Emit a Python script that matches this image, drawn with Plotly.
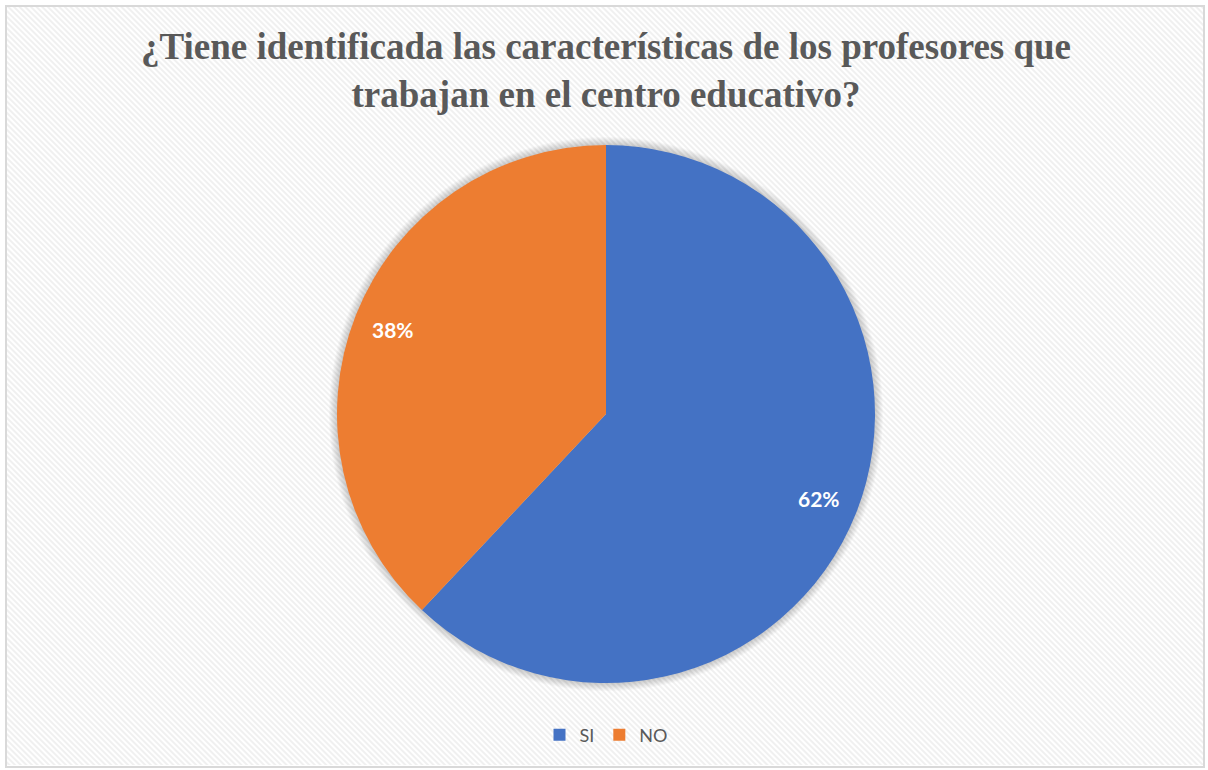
import math, base64
import plotly.graph_objects as go

categories = ["SI", "NO"]
values = [62, 38]
colors = ["#4472C4", "#ED7D31"]
title_text = "¿Tiene identificada las características de los profesores que<br>trabajan en el centro educativo?"

W, H = 1208, 770
L, R, T, B = 337, 333, 145, 87
pw, ph = W - L - R, H - T - B

def px2x(px):
    return (px - L) / pw

def py2y(py):
    return (H - B - py) / ph

svg = ('<svg xmlns="http://www.w3.org/2000/svg" width="%d" height="%d">'
       '<defs><pattern id="p" width="4" height="4" patternUnits="userSpaceOnUse" patternTransform="rotate(-45)">'
       '<rect width="4" height="4" fill="#ffffff"/><rect width="2" height="4" fill="#f0f0f0"/></pattern></defs>'
       '<rect width="100%%" height="100%%" fill="url(#p)"/></svg>') % (1197, 760)
src = "data:image/svg+xml;base64," + base64.b64encode(svg.encode()).decode()

fig = go.Figure(go.Pie(
    labels=categories, values=values, sort=False, direction="clockwise", rotation=0,
    marker=dict(colors=colors, line=dict(color="white", width=0)),
    textinfo="none", hoverinfo="label+percent",
))

# labels at 0.85 radius, from data
total = sum(values)
cum = 0
annotations = []
for v in values:
    mid = (cum + v / 2) / total * 2 * math.pi
    cum += v
    x = 0.5 + 0.85 * 0.5 * math.sin(mid)
    y = 0.5 + 0.85 * 0.5 * math.cos(mid)
    annotations.append(dict(x=x, y=y, xref="paper", yref="paper", showarrow=False,
                            xanchor="center", yanchor="middle",
                            text="<b>%d%%</b>" % round(v / total * 100),
                            font=dict(family="Lato, Open Sans, sans-serif", size=21, color="white")))

annotations.append(dict(x=0.5, y=py2y(71), xref="paper", yref="paper", showarrow=False,
                        xanchor="center", yanchor="middle", align="center",
                        text="<b>" + title_text + "</b>",
                        font=dict(family="Liberation Serif, Times New Roman, serif", size=37, color="#595959")))

shapes = []
for k in range(1, 9):
    rr = 0.5 + k / pw
    shapes.append(dict(type="circle", xref="paper", yref="paper", x0=0.5 - rr, x1=0.5 + rr,
                       y0=0.5 - rr, y1=0.5 + rr, line=dict(width=0),
                       fillcolor="rgba(0,0,0,0.022)", layer="below"))
shapes.append(dict(type="rect", xref="paper", yref="paper", x0=px2x(6), x1=px2x(1204),
                   y0=py2y(767), y1=py2y(6), line=dict(color="#d9d9d9", width=2), layer="below"))

fig.update_layout(
    width=W, height=H,
    margin=dict(l=L, r=R, t=T, b=B, autoexpand=False),
    paper_bgcolor="white", plot_bgcolor="white",
    showlegend=True,
    legend=dict(orientation="h", x=0.5, xanchor="center", y=py2y(735), yanchor="middle",
                font=dict(family="Lato, Open Sans, sans-serif", size=18, color="#595959"),
                bgcolor="rgba(0,0,0,0)", itemwidth=30),
    annotations=annotations,
    images=[dict(source=src, xref="paper", yref="paper", x=px2x(6), y=py2y(6),
                 sizex=(1203 - 6) / pw, sizey=(765 - 6) / ph, xanchor="left", yanchor="top",
                 sizing="stretch", layer="below")],
    shapes=shapes,
)

fig.write_html("out.html", config={"displayModeBar": False},
               post_script="document.body.style.margin='0';document.body.style.overflow='hidden';")
